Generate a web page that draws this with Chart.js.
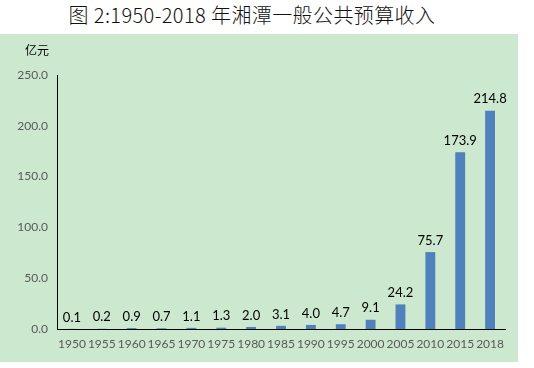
<!DOCTYPE html>
<html>
<head>
<meta charset="utf-8">
<script src="https://cdn.jsdelivr.net/npm/chart.js@4"></script>
<style>
    body { margin: 0; background: #fff; width: 534px; height: 368px; overflow: hidden; position: relative; }
    #title {
        position: absolute; left: 0; top: 2px; width: 504px; text-align: center;
        font-family: "Noto Sans CJK SC", sans-serif; font-size: 20px; font-weight: 300; color: #111;
        line-height: 26px; letter-spacing: 0.4px;
    }
    #panel {
        position: absolute; left: 0; top: 34px; width: 518px; height: 328px; background: #cce8cf;
    }
</style>
</head>
<body>
<div id="title">图 2:1950-2018 年湘潭一般公共预算收入</div>
<div id="panel"><canvas id="budgetChart"></canvas></div>
<script>
// Données
const years = ['1950', '1955', '1960', '1965', '1970', '1975', '1980', '1985', '1990', '1995', '2000', '2005', '2010', '2015', '2018'];
const revenue = [0.1, 0.2, 0.9, 0.7, 1.1, 1.3, 2.0, 3.1, 4.0, 4.7, 9.1, 24.2, 75.7, 173.9, 214.8];
const yTicks = [0, 50, 100, 150, 200, 250];
const unitLabel = '亿元';

const numFont = 'Lato, "Open Sans", sans-serif';

// Étiquettes de valeurs au-dessus des barres + unité
const labelsPlugin = {
    id: 'labelsPlugin',
    afterDatasetsDraw(chart) {
        const ctx = chart.ctx;
        const meta = chart.getDatasetMeta(0);
        ctx.save();
        ctx.fillStyle = '#000';
        ctx.font = '13px ' + numFont;
        ctx.textAlign = 'center';
        ctx.textBaseline = 'bottom';
        meta.data.forEach((bar, i) => {
            ctx.fillText(revenue[i].toFixed(1), bar.x, bar.y - 5);
        });
        ctx.font = '12px "Noto Sans CJK SC", sans-serif';
        ctx.textAlign = 'left';
        ctx.textBaseline = 'middle';
        ctx.fillText(unitLabel, 25, 16);
        ctx.restore();
    }
};

new Chart(document.getElementById('budgetChart'), {
    type: 'bar',
    data: {
        labels: years,
        datasets: [{
            data: revenue,
            backgroundColor: '#4f81bd',
            barPercentage: 0.66,
            categoryPercentage: 0.5
        }]
    },
    options: {
        responsive: true,
        maintainAspectRatio: false,
        animation: false,
        layout: { padding: { top: 41, right: 13, bottom: 5, left: 0 } },
        plugins: {
            legend: { display: false },
            tooltip: { enabled: false }
        },
        scales: {
            x: {
                grid: { display: false, drawTicks: false },
                border: { color: '#000', width: 1 },
                ticks: { color: '#595959', font: { family: numFont, size: 12 }, padding: 8, maxRotation: 0, autoSkip: false },
                afterFit(scale) { scale.height = 28; }
            },
            y: {
                min: 0,
                max: 250,
                afterBuildTicks(scale) { scale.ticks = yTicks.map(v => ({ value: v })); },
                grid: { display: false, drawTicks: true, tickLength: 5, tickColor: '#000' },
                border: { color: '#000', width: 1 },
                ticks: {
                    color: '#595959',
                    font: { family: numFont, size: 12 },
                    padding: 4,
                    callback: v => Number(v).toFixed(1)
                },
                afterFit(scale) { scale.width = 57; }
            }
        }
    },
    plugins: [labelsPlugin]
});
</script>
</body>
</html>
